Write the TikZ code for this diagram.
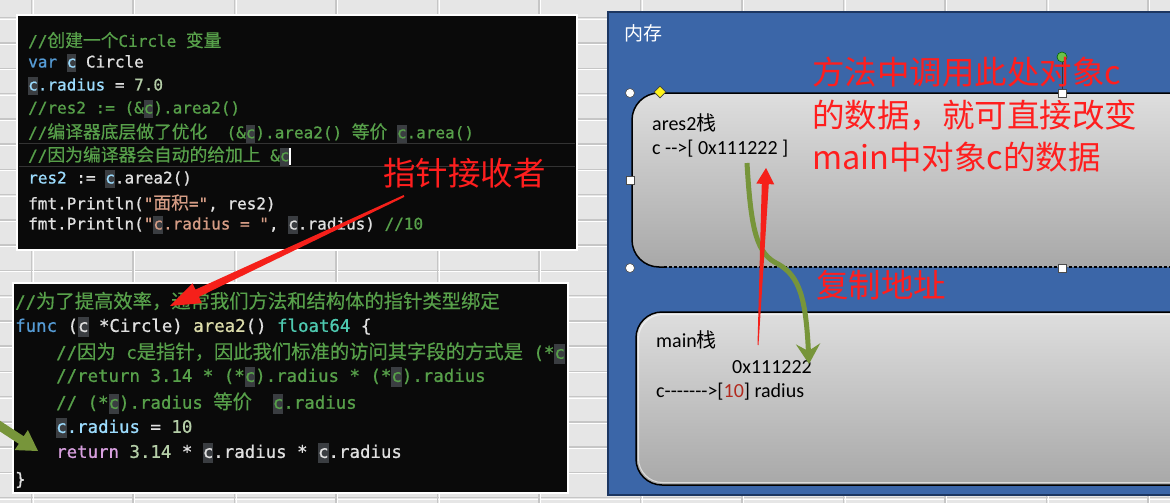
\documentclass[tikz,border=0pt]{standalone}
\usepackage{fontspec}
\setmainfont{Carlito}
\setmonofont{DejaVu Sans Mono}[FakeBold=0.9]
\newfontfamily\cjk{Noto Sans CJK SC}[Scale=1.11, FakeBold=0.5]
\newfontfamily\cjkplain{Noto Sans CJK SC}
\newfontfamily\boxfont{Carlito}
\usetikzlibrary{calc,arrows.meta,shapes.geometric}
\definecolor{bgc}{HTML}{E6E6E6}
\definecolor{gridc}{HTML}{C6C6C6}
\definecolor{codebg}{HTML}{0A0A0A}
\definecolor{cmt}{HTML}{57A04A}
\definecolor{kwc}{HTML}{569CD6}
\definecolor{vrc}{HTML}{9CDCFE}
\definecolor{txc}{HTML}{E0E0E0}
\definecolor{nmc}{HTML}{B5CEA8}
\definecolor{stc}{HTML}{D69D85}
\definecolor{fnc}{HTML}{DCDCAA}
\definecolor{tyc}{HTML}{4EC9B0}
\definecolor{rtc}{HTML}{D8A0DF}
\definecolor{hlc}{HTML}{3A3D41}
\definecolor{sepc}{HTML}{333333}
\definecolor{panelc}{HTML}{3B66A8}
\definecolor{paneledge}{HTML}{1C3661}
\definecolor{boxtop}{HTML}{DEDEDE}
\definecolor{boxbot}{HTML}{A8A8A8}
\definecolor{redc}{HTML}{FF1E1E}
\definecolor{arrred}{HTML}{F5201A}
\definecolor{grn}{HTML}{77953A}
\definecolor{tenc}{HTML}{B22A1E}
\definecolor{rotc}{HTML}{6CC24A}
\newcommand\cm[1]{\textcolor{cmt}{#1}}
\newcommand\kw[1]{\textcolor{kwc}{#1}}
\newcommand\vr[1]{\textcolor{vrc}{#1}}
\newcommand\tx[1]{\textcolor{txc}{#1}}
\newcommand\nm[1]{\textcolor{nmc}{#1}}
\newcommand\st[1]{\textcolor{stc}{#1}}
\newcommand\fn[1]{\textcolor{fnc}{#1}}
\newcommand\ty[1]{\textcolor{tyc}{#1}}
\newcommand\rt[1]{\textcolor{rtc}{#1}}
\newcommand\hc[1]{\rlap{\textcolor{hlc}{\rule[-0.28em]{0.602em}{1.12em}}}#1}
\newcommand\cur{\rlap{\textcolor{white}{\rule[-0.25em]{0.08em}{1.05em}}}}
\newcommand\taperarrow[7]{%
  \path ($(#2)!#3!(#1)$) coordinate (hb);
  \fill[#7] ($(#1)!#6!90:(#2)$) -- ($(hb)!#5!90:(#2)$) -- ($(hb)!#4!90:(#2)$) -- (#2)
    -- ($(hb)!#4!-90:(#2)$) -- ($(hb)!#5!-90:(#2)$) -- ($(#1)!#6!-90:(#2)$) -- cycle;}
\begin{document}
\begin{tikzpicture}[x=1pt,y=-1pt,
  codeA/.style={anchor=west, inner sep=0, font=\ttfamily\fontsize{16}{19}\selectfont},
  codeB/.style={anchor=west, inner sep=0, font=\ttfamily\fontsize{17.4}{20}\selectfont},
  boxtxt/.style={anchor=west, inner sep=0, font=\boxfont\fontsize{20}{23}\selectfont, text=black},
  redtxt/.style={anchor=west, inner sep=0, font=\cjkplain\fontsize{32.5}{36}\selectfont, text=redc},
  hcirc/.style={circle, draw=gray!60!black, fill=white, inner sep=0, minimum size=9pt, line width=0.6pt},
  hsq/.style={rectangle, draw=gray!60!black, fill=white, inner sep=0, minimum size=8pt, line width=0.6pt},
  gridline/.style={draw=gridc, line width=1.4pt},
  gridhi/.style={draw=white, line width=0.8pt}]
\useasboundingbox (0,0) rectangle (1170,503);
\clip (0,0) rectangle (1170,503);
\fill[bgc] (0,0) rectangle (1170,503);
% spreadsheet grid
\foreach \k in {0,...,19} {
  \draw[gridhi] (0,{19.3+25.25*\k}) -- (1170,{19.3+25.25*\k});
  \draw[gridline] (0,{17.8+25.25*\k}) -- (1170,{17.8+25.25*\k});
}
\foreach \k in {0,...,11} {
  \draw[gridhi] ({33+101.5*\k},0) -- ({33+101.5*\k},503);
  \draw[gridline] ({31.5+101.5*\k},0) -- ({31.5+101.5*\k},503);
}
% ---------- top code block
\draw[white, line width=2.5pt, fill=codebg] (17,15) rectangle (577,250);
\draw[sepc, line width=1pt] (19,143.5) -- (575,143.5);
\draw[sepc, line width=1pt] (19,166.5) -- (575,166.5);
\node[codeA] (a1) at (28,40) {\cm{//{\cjk 创建一个}Circle {\cjk 变量}}};
\node[codeA] (a2) at (28,63) {\kw{var} \hc{\vr{c}} \tx{Circle}};
\node[codeA] (a3) at (28,86) {\hc{\vr{c}}\vr{.radius} \tx{=} \nm{7.0}};
\node[codeA] (a4) at (28,109) {\cm{//res2 := (\&\hc{c}).area2()}};
\node[codeA] (a5) at (28,133) {\cm{//{\cjk 编译器底层做了优化}~~(\&\hc{c}).area2() {\cjk 等价} \hc{c}.area()}};
\node[codeA] (a6) at (28,156) {\cm{//{\cjk 因为编译器会自动的给加上} \&\hc{c}}\cur};
\node[codeA] (a7) at (28,179) {\vr{res2} \tx{:=} \hc{\vr{c}}\tx{.area2()}};
\node[codeA] (a8) at (28,203) {\tx{fmt.Println(}\st{"{\cjk 面积}="}\tx{, res2)}};
\node[codeA] (a9) at (28,225) {\tx{fmt.Println(}\st{"\hc{c}.radius = "}\tx{, \hc{c}.radius)} \cm{//10}};
% ---------- bottom code block
\draw[white, line width=2.5pt, fill=codebg] (13,283) rectangle (568,493);
\begin{scope}
\clip (14,284) rectangle (567,492);
\node[codeB] (b1) at (15,301) {\cm{//{\cjk 为了提高效率，通常我们方法和结构体的指针类型绑定}}};
\node[codeB] (b2) at (15,327) {\kw{func} \tx{(}\hc{\tx{c}} \tx{*Circle)} \fn{area2}\tx{()} \ty{float64} \tx{\{}};
\node[codeB] (b3) at (56,353) {\cm{//{\cjk 因为} c{\cjk 是指针，因此我们标准的访问其字段的方式是} (*\hc{c})}};
\node[codeB] (b4) at (56,377) {\cm{//return 3.14 * (*\hc{c}).radius * (*\hc{c}).radius}};
\node[codeB] (b5) at (56,403) {\cm{// (*\hc{c}).radius {\cjk 等价}~~\hc{c}.radius}};
\node[codeB] (b6) at (56,428) {\hc{\vr{c}}\vr{.radius} \tx{=} \nm{10}};
\node[codeB] (b7) at (56,453) {\rt{return} \nm{3.14} \tx{*} \hc{\tx{c}}\tx{.radius *} \hc{\tx{c}}\tx{.radius}};
\node[codeB] (b8) at (15,480) {\tx{\}}};
\end{scope}
% ---------- memory panel
\draw[paneledge, line width=2.5pt, fill=panelc] (608,12) rectangle (1185,495);
\node[anchor=west, inner sep=0, text=white, font=\cjkplain\fontsize{19}{22}\selectfont] (mem) at (624,33) {内存};
% upper box (ares2 stack)
\fill[top color=boxtop, bottom color=boxbot, rounded corners=27pt] (632,93) rectangle (1200,267);
\draw[black, line width=1.5pt, rounded corners=27pt] (1200,93) -- (632,93) -- (632,267) -- (664,267);
\draw[black, line width=1.2pt, dash pattern=on 3pt off 2pt] (664,267) -- (1200,267);
\node[boxtxt] (ares) at (652,123) {ares2{\cjkplain 栈}};
\node[boxtxt] (caddr) at (652,149) {c -->[ 0x111222 ]};
% lower box (main stack)
\path[top color=boxtop, bottom color=boxbot, draw=black, line width=1.5pt, rounded corners=26pt] (636,312) rectangle (1200,485);
\draw[white, opacity=0.6, line width=1pt, rounded corners=24pt] (638.5,314.5) rectangle (1200,482.5);
\node[boxtxt] (mainst) at (656,340) {main{\cjkplain 栈}};
\node[boxtxt] (maddr) at (732,367) {0x111222};
\node[boxtxt] (mc) at (656,392) {c------->[\textcolor{tenc}{10}] radius};
% selection handles
\node[hsq] (htop) at (1062,93) {};
\node[circle, draw=green!40!black, fill=rotc, inner sep=0, minimum size=10pt, line width=0.6pt] (hrot) at (1062,57) {};
\draw[gray!40!black, line width=0.8pt] (hrot) -- (htop);
\node[hcirc] (htl) at (630,93) {};
\node[hcirc] (hbl) at (630,268) {};
\node[hsq] (hml) at (630,180) {};
\node[hsq] (hbot) at (1062,268) {};
\node[diamond, draw=gray!50!black, fill=yellow!90!white, inner sep=0, minimum size=12pt, line width=0.6pt] (hadj) at (660,92) {};
% red explanatory texts
\node[redtxt] (r1) at (812,72) {方法中调用此处对象c};
\node[redtxt] (r2) at (812,115) {的数据，就可直接改变};
\node[redtxt] (r3) at (812,157) {main中对象c的数据};
\node[redtxt] (copy) at (816,285) {复制地址};
\node[redtxt] (ptr) at (383,173) {指针接收者};
% arrows
\coordinate (gs) at (747,163);
\coordinate (ge) at (809,364);
\draw[grn, line width=5pt, -{Stealth[length=20pt,width=24pt,inset=7pt]}]
  (gs) .. controls (751,232) and (757,254) .. (778,264)
       .. controls (800,276) and (806,300) .. (ge);
\coordinate (rs) at (758,345);
\coordinate (rt) at (766,168);
\taperarrow{rs}{rt}{16pt}{9pt}{3.5pt}{0.5pt}{arrred}
\coordinate (ps) at (404,196);
\coordinate (pt) at (170,306);
\taperarrow{ps}{pt}{30pt}{11pt}{4pt}{1pt}{arrred}
\coordinate (ls) at (-20,413);
\coordinate (lt) at (38,451);
\taperarrow{ls}{lt}{20pt}{12pt}{4.5pt}{4.5pt}{grn}
\end{tikzpicture}
\end{document}
